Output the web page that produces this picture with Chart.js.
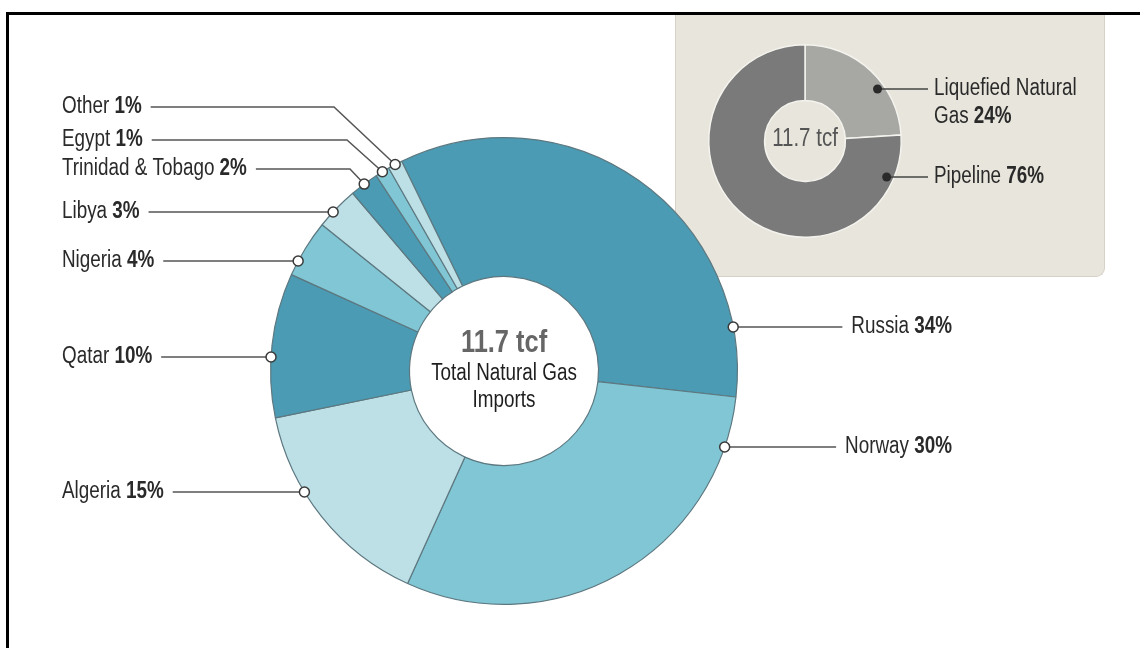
<!DOCTYPE html>
<html><head><meta charset="utf-8">
<script src="https://cdn.jsdelivr.net/npm/chart.js@4.4.1/dist/chart.umd.min.js"></script>
<style>
html,body{margin:0;padding:0;background:#fff;width:1140px;height:648px;overflow:hidden;}
#frame{position:absolute;left:6px;top:12px;width:1200px;height:700px;border-top:3px solid #000;border-left:3px solid #000;}
#panel{position:absolute;left:675px;top:15px;width:430px;height:262px;background:#e8e5dc;border:1px solid #d6d2c7;border-top:none;border-radius:0 0 9px 9px;box-sizing:border-box;}
#inset{position:absolute;left:-1px;top:0;}
#main{position:absolute;left:0;top:0;}
</style></head>
<body>
<div id="frame"></div>
<div id="panel"><canvas id="inset" width="430" height="262"></canvas></div>
<canvas id="main" width="1140" height="648"></canvas>
<script>
// ---- data ----
const categories = ['Russia', 'Norway', 'Algeria', 'Qatar', 'Nigeria', 'Libya', 'Trinidad & Tobago', 'Egypt', 'Other'];
const shares = [34, 30, 15, 10, 4, 3, 2, 1, 1];
const importTypes = ['Liquefied Natural Gas', 'Pipeline'];
const typeShares = [24, 76];
const totalLabel = '11.7 tcf';
const centerCaption = ['Total Natural Gas', 'Imports'];

// ---- styles ----
const FONT = '"Liberation Sans", Arial, sans-serif';
const SX = 0.82; // horizontal condensing to imitate a condensed face
const DARK = '#4a9bb3', MID = '#80c6d4', LIGHT = '#bde0e6';
const sliceColors = [DARK, MID, LIGHT, DARK, MID, LIGHT, DARK, MID, LIGHT];

function textW(ctx, s, font) { ctx.font = font; return ctx.measureText(s).width * SX; }
function textAt(ctx, s, x, y, font, color, align) {
  ctx.save();
  ctx.font = font;
  ctx.fillStyle = color;
  ctx.textBaseline = 'middle';
  ctx.textAlign = align || 'left';
  ctx.translate(x, y);
  ctx.scale(SX, 1);
  ctx.fillText(s, 0, 0);
  ctx.restore();
}
function drawLabel(ctx, name, pct, x, y, align, size) {
  const fr = size + 'px ' + FONT, fb = 'bold ' + size + 'px ' + FONT;
  const w1 = textW(ctx, name + ' ', fr);
  const w2 = textW(ctx, pct, fb);
  const x0 = align === 'right' ? x - (w1 + w2) : x;
  textAt(ctx, name + ' ', x0, y, fr, '#2a2a2a');
  textAt(ctx, pct, x0 + w1, y, fb, '#2a2a2a');
  return {start: x0, end: x0 + w1 + w2};
}

const leaderPlugin = {
  id: 'leaders',
  afterDatasetsDraw(chart, args, opts) {
    const ctx = chart.ctx;
    const meta = chart.getDatasetMeta(0);
    const a0 = meta.data[0];
    const cx = a0.x, cy = a0.y, R = a0.outerRadius;
    ctx.save();
    textAt(ctx, totalLabel, cx, cy - 28, 'bold 31px ' + FONT, '#666666', 'center');
    textAt(ctx, centerCaption[0], cx, cy + 3, '23px ' + FONT, '#1e1e1e', 'center');
    textAt(ctx, centerCaption[1], cx, cy + 30, '23px ' + FONT, '#1e1e1e', 'center');

    opts.layout.forEach((L, i) => {
      const arc = meta.data[i];
      let px, py;
      if (L.elbowX != null) {
        const mid = (arc.startAngle + arc.endAngle) / 2;
        px = cx + R * Math.cos(mid); py = cy + R * Math.sin(mid);
      } else {
        const off = L.y - cy;
        const h = Math.sqrt(Math.max(R * R - off * off, 0));
        px = L.side === 'left' ? cx - h : cx + h; py = L.y;
      }
      const t = drawLabel(ctx, categories[i], shares[i] + '%', L.side === 'left' ? 62 : 952, L.y, L.side === 'left' ? 'left' : 'right', 23);
      ctx.strokeStyle = '#555';
      ctx.lineWidth = 1.5;
      ctx.beginPath();
      if (L.side === 'left') {
        ctx.moveTo(t.end + 9, L.y);
        if (L.elbowX != null) { ctx.lineTo(L.elbowX, L.y); }
        ctx.lineTo(px, py);
      } else {
        ctx.moveTo(t.start - 9, L.y);
        ctx.lineTo(px, py);
      }
      ctx.stroke();
      ctx.beginPath();
      ctx.arc(px, py, 5, 0, Math.PI * 2);
      ctx.fillStyle = '#fff';
      ctx.fill();
      ctx.strokeStyle = '#3a3a3a';
      ctx.lineWidth = 1.5;
      ctx.stroke();
    });
    ctx.restore();
  }
};

new Chart(document.getElementById('main'), {
  type: 'doughnut',
  data: {
    labels: categories,
    datasets: [{
      data: shares,
      backgroundColor: sliceColors,
      borderColor: '#5d7880',
      borderWidth: 1.2,
      hoverOffset: 0
    }]
  },
  options: {
    responsive: false,
    animation: false,
    rotation: -26,
    cutout: '40.5%',
    layout: {padding: {left: 270, right: 402, top: 137, bottom: 43}},
    plugins: {
      legend: {display: false},
      tooltip: {enabled: false},
      leaders: {
        layout: [
          {side: 'right', y: 327},
          {side: 'right', y: 447},
          {side: 'left', y: 492},
          {side: 'left', y: 357},
          {side: 'left', y: 261},
          {side: 'left', y: 212},
          {side: 'left', y: 169, elbowX: 350},
          {side: 'left', y: 140, elbowX: 347},
          {side: 'left', y: 107, elbowX: 334}
        ]
      }
    }
  },
  plugins: [leaderPlugin]
});

const insetPlugin = {
  id: 'insetLabels',
  afterDatasetsDraw(chart, args, opts) {
    const ctx = chart.ctx;
    const meta = chart.getDatasetMeta(0);
    const a0 = meta.data[0];
    const cx = a0.x, cy = a0.y, R = a0.outerRadius - 7;
    ctx.save();
    textAt(ctx, totalLabel, cx, cy - 2, '25px ' + FONT, '#555', 'center');
    opts.layout.forEach((L, i) => {
      const off = L.y - cy;
      const h = Math.sqrt(Math.max(R * R - off * off, 0));
      const px = cx + h, py = L.y;
      ctx.strokeStyle = '#444';
      ctx.lineWidth = 1.5;
      ctx.beginPath();
      ctx.moveTo(px, py);
      ctx.lineTo(L.textX - 6, py);
      ctx.stroke();
      ctx.beginPath();
      ctx.arc(px, py, 4.5, 0, Math.PI * 2);
      ctx.fillStyle = '#2a2a2a';
      ctx.fill();
      const pct = typeShares[i] + '%';
      if (i === 0) {
        const words = importTypes[i].split(' ');
        textAt(ctx, words.slice(0, 2).join(' '), L.textX, L.y, '23px ' + FONT, '#2a2a2a');
        drawLabel(ctx, words.slice(2).join(' '), pct, L.textX, L.y + 28, 'left', 23);
      } else {
        drawLabel(ctx, importTypes[i], pct, L.textX, L.y, 'left', 23);
      }
    });
    ctx.restore();
  }
};

new Chart(document.getElementById('inset'), {
  type: 'doughnut',
  data: {
    labels: importTypes,
    datasets: [{
      data: typeShares,
      backgroundColor: ['#a7a7a4', '#7a7a7a'],
      borderColor: '#f4f3ee',
      borderWidth: 1.5,
      hoverOffset: 0
    }]
  },
  options: {
    responsive: false,
    animation: false,
    rotation: 0,
    cutout: '42%',
    layout: {padding: {left: 33, right: 203, top: 29, bottom: 39}},
    plugins: {
      legend: {display: false},
      tooltip: {enabled: false},
      insetLabels: {
        layout: [
          {y: 74, textX: 259},
          {y: 162, textX: 259}
        ]
      }
    }
  },
  plugins: [insetPlugin]
});
</script>
</body></html>
